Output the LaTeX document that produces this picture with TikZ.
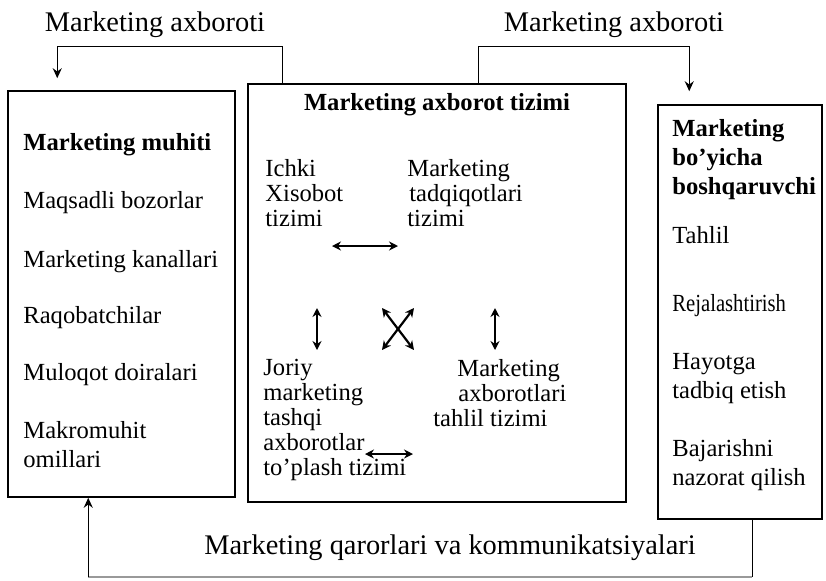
\documentclass[tikz,border=0pt]{standalone}
\usepackage{fontspec}
\usepackage{graphicx}
\setmainfont{Liberation Serif}
\usetikzlibrary{arrows.meta}

\newcommand\bodyfont{\fontsize{12.3pt}{12.5pt}\selectfont}
\newcommand\loosefont{\fontsize{12.3pt}{14.5pt}\selectfont}
\newcommand\labelfont{\fontsize{14.2pt}{16pt}\selectfont}

\tikzset{
  box/.style={draw, line width=0.75pt, inner sep=0pt},
  txt/.style={anchor=north west, inner sep=0pt, align=left, font=\bodyfont},
  ltxt/.style={anchor=north west, inner sep=0pt, align=left, font=\loosefont},
  wire/.style={line width=0.75pt},
  flow/.style={line width=0.75pt, -{Stealth[length=5pt,width=4.5pt]}},
  link/.style={line width=1.1pt, {Stealth[length=4.5pt,width=4.5pt]}-{Stealth[length=4.5pt,width=4.5pt]}},
  lbl/.style={inner sep=0pt, font=\labelfont}
}

\begin{document}
\begin{tikzpicture}[x=0.5pt, y=-0.5pt]
\useasboundingbox (0,0) rectangle (826,580);

% three main blocks
\node[box, minimum width=113.5pt, minimum height=203pt] (env) at (121.5,294) {};
\node[box, minimum width=189pt, minimum height=209pt] (mis) at (437,293) {};
\node[box, minimum width=82pt, minimum height=207pt] (mgr) at (740,312) {};

% marketing environment
\node[ltxt, font=\bfseries\loosefont] (envt) at (23,133) {Marketing muhiti};
\node[ltxt] (e1) at (23,191) {Maqsadli bozorlar};
\node[ltxt] (e2) at (23,250) {Marketing kanallari};
\node[ltxt] (e3) at (23,306) {Raqobatchilar};
\node[ltxt] (e4) at (23,363) {Muloqot doiralari};
\node[ltxt] (e5) at (23,421) {Makromuhit\\omillari};

% marketing information system
\node[inner sep=0pt, font=\bfseries\bodyfont] (mist) at (437,105) {Marketing axborot tizimi};
\node[txt] (ichki) at (265,159) {Ichki\\Xisobot\\tizimi};
\node[txt] (tadq) at (407,159) {Marketing\\\hspace{1pt}tadqiqotlari\\tizimi};
\node[txt] (joriy) at (263,359) {Joriy\\marketing\\tashqi\\axborotlar\\to’plash tizimi};
\node[txt] (tahl) at (433,359) {\hspace{12pt}Marketing\\\hspace{12.5pt}axborotlari\\tahlil tizimi};

\coordinate (h1) at (332,246);  \coordinate (h2) at (398,246);
\coordinate (v1) at (317,308);  \coordinate (v2) at (317,350);
\coordinate (x1) at (382,308);  \coordinate (x2) at (414,350);
\coordinate (x3) at (414,308);  \coordinate (x4) at (382,350);
\coordinate (w1) at (495,308);  \coordinate (w2) at (495,350);
\coordinate (s1) at (365,454);  \coordinate (s2) at (413,454);
\draw[link] (h1) -- (h2);
\draw[link] (v1) -- (v2);
\draw[link] (x1) -- (x2);
\draw[link] (x3) -- (x4);
\draw[link] (w1) -- (w2);
\draw[link] (s1) -- (s2);

% marketing manager
\node[ltxt, font=\bfseries\loosefont] (mgrt) at (672,119) {Marketing\\bo’yicha\\boshqaruvchi};
\node[ltxt] (m1) at (672,226) {Tahlil};
\node[ltxt] (m2) at (672,294) {\scalebox{0.84}[1]{Rejalashtirish}};
\node[ltxt] (m3) at (672,353) {Hayotga\\tadbiq etish};
\node[ltxt] (m4) at (672,439) {Bajarishni\\nazorat qilish};

% information flows
\node[lbl] (la) at (155,25) {Marketing axboroti};
\node[lbl] (lb) at (614,25) {Marketing axboroti};
\node[lbl] (lc) at (450,548) {Marketing qarorlari va kommunikatsiyalari};

\draw[flow, shorten >=6pt] ([xshift=17.5pt]mis.north west) -- ++(0,-37) -| ([xshift=25pt]env.north west);
\draw[flow, shorten >=6.5pt] ([xshift=115.5pt]mis.north west) -- ++(0,-37) -| ([xshift=16pt]mgr.north west);

% feedback loop from the manager back to the environment
\coordinate (fb1) at ([xshift=47.5pt]mgr.south west);
\coordinate (fb2) at ([yshift=-28.5pt]fb1);
\coordinate (fb3) at ([xshift=40.5pt]env.south west |- fb2);
\draw[wire] (fb1) -- (fb2);
\draw[wire, black!40] (fb2) -- (fb3);
\draw[flow] (fb3) -- ([xshift=40.5pt]env.south west);
\end{tikzpicture}
\end{document}
